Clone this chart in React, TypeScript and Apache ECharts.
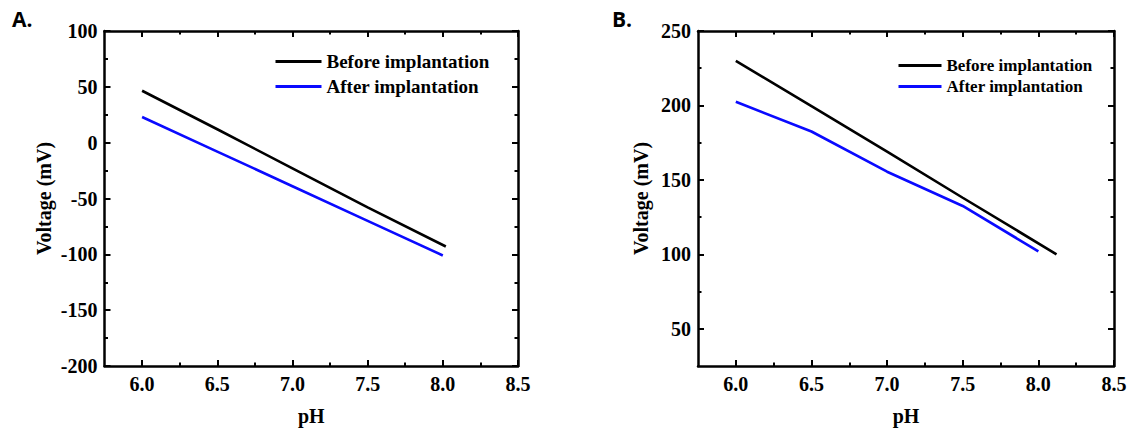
import React, { useEffect, useRef } from "react";
import * as echarts from "echarts";

// ---- Data ----
const seriesNames = ["Before implantation", "After implantation"];

// Panel A
const phA_before = [6.0, 6.5, 7.0, 7.5, 8.02];
const voltA_before = [46.5, 12, -23, -58, -93];
const phA_after = [6.0, 6.5, 7.0, 7.5, 8.0];
const voltA_after = [23, -8, -39, -70, -101];

// Panel B
const phB_before = [6.0, 6.5, 7.0, 7.5, 8.12];
const voltB_before = [230, 199.5, 169, 138, 100];
const phB_after = [6.0, 6.5, 7.0, 7.5, 8.0];
const voltB_after = [202.5, 182.5, 155.5, 132.5, 102];

// Ticks
const xMajorTicks = [6.0, 6.5, 7.0, 7.5, 8.0, 8.5];
const xMinorTicks = [6.25, 6.75, 7.25, 7.75, 8.25];
const yMajorTicksA = [-200, -150, -100, -50, 0, 50, 100];
const yMinorTicksA = [-175, -125, -75, -25, 25, 75];
const yMajorTicksB = [50, 100, 150, 200, 250];
const yMinorTicksB = [75, 125, 175, 225];

const X_MIN = 5.75;
const X_MAX = 8.5;
const Y_RANGE_A = [-200, 100];
const Y_RANGE_B = [25, 250];

const SERIF = "Liberation Serif, Times New Roman, serif";
const SANS = "Open Sans, Noto Sans, sans-serif";
const BLACK = "#000000";
const BLUE = "#0a0aff";

const zip = (xs: number[], ys: number[]) => xs.map((x, i) => [x, ys[i]]);

function frameAxes(
  dim: "x" | "y",
  gridIndex: number,
  min: number,
  max: number,
  majors: number[],
  minors: number[],
  fmt: (v: number) => string,
  name: string,
  nameGap: number,
  labelFont: number
) {
  const posA = dim === "x" ? "bottom" : "left";
  const posB = dim === "x" ? "top" : "right";
  const base = (pos: string, ticks: number[], len: number, line: boolean, label: boolean, withName: boolean) => ({
    type: "value",
    gridIndex,
    position: pos,
    min,
    max,
    axisLine: { show: line, onZero: false, lineStyle: { color: BLACK, width: 2.5 } },
    axisTick: {
      show: true,
      inside: true,
      length: len,
      customValues: ticks,
      lineStyle: { color: BLACK, width: 2 },
    },
    axisLabel: {
      show: label,
      customValues: majors,
      formatter: (v: number) => fmt(v),
      margin: dim === "x" ? 8 : 7,
      fontFamily: SERIF,
      fontWeight: "bold",
      fontSize: labelFont,
      color: BLACK,
    },
    splitLine: { show: false },
    name: withName ? name : "",
    nameLocation: "middle",
    nameGap,
    nameTextStyle: {
      fontFamily: SERIF,
      fontWeight: "bold",
      fontSize: 20,
      color: BLACK,
    },
  });
  return [
    base(posA, majors, 6, true, true, true),
    base(posA, minors, 3.5, false, false, false),
    base(posB, majors, 6, true, false, false),
    base(posB, minors, 3.5, false, false, false),
  ];
}

export default function App() {
  const ref = useRef<HTMLDivElement>(null);

  useEffect(() => {
    if (!ref.current) return;
    const chart = echarts.init(ref.current, undefined, { renderer: "svg" });

    const fmtX = (v: number) => v.toFixed(1);
    const fmtY = (v: number) => String(v);

    const xAxes = [
      ...frameAxes("x", 0, X_MIN, X_MAX, xMajorTicks, xMinorTicks, fmtX, "pH", 40, 20),
      ...frameAxes("x", 1, X_MIN, X_MAX, xMajorTicks, xMinorTicks, fmtX, "pH", 40, 20),
    ];
    const yAxes = [
      ...frameAxes("y", 0, Y_RANGE_A[0], Y_RANGE_A[1], yMajorTicksA, yMinorTicksA, fmtY, "Voltage (mV)", 51, 20),
      ...frameAxes("y", 1, Y_RANGE_B[0], Y_RANGE_B[1], yMajorTicksB, yMinorTicksB, fmtY, "Voltage (mV)", 47, 20),
    ];

    const lineSeries = (name: string, data: number[][], color: string, xi: number, yi: number) => ({
      type: "line",
      name,
      data,
      xAxisIndex: xi,
      yAxisIndex: yi,
      symbol: "none",
      showSymbol: false,
      lineStyle: { color, width: 2.6 },
      itemStyle: { color },
      color,
    });

    const legendBase = (left: number, top: number, itemWidth: number, gap: number, fontSize: number) => ({
      orient: "vertical",
      left,
      top,
      padding: 0,
      itemWidth,
      itemHeight: 14,
      itemGap: gap,
      data: seriesNames,
      itemStyle: { opacity: 0 },
      lineStyle: { width: 3 },
      textStyle: { fontFamily: SERIF, fontWeight: "bold", fontSize, color: BLACK },
      selectedMode: false,
    });

    chart.setOption({
      animation: false,
      backgroundColor: "#ffffff",
      grid: [
        { left: 104.5, top: 31, width: 413.5, height: 338 },
        { left: 698, top: 31, width: 416, height: 338 },
      ],
      xAxis: xAxes,
      yAxis: yAxes,
      legend: [legendBase(274, 52, 46, 6, 19), legendBase(897, 57, 43, 4, 17)],
      graphic: [
        {
          type: "text",
          left: 12,
          top: 8,
          style: { text: "A.", fontFamily: SANS, fontWeight: "bold", fontSize: 21, fill: BLACK },
        },
        {
          type: "text",
          left: 612,
          top: 8,
          style: { text: "B.", fontFamily: SANS, fontWeight: "bold", fontSize: 21, fill: BLACK },
        },
      ],
      series: [
        lineSeries(seriesNames[0], zip(phA_before, voltA_before), BLACK, 0, 0),
        lineSeries(seriesNames[1], zip(phA_after, voltA_after), BLUE, 0, 0),
        lineSeries(seriesNames[0], zip(phB_before, voltB_before), BLACK, 4, 4),
        lineSeries(seriesNames[1], zip(phB_after, voltB_after), BLUE, 4, 4),
      ],
    });

    return () => chart.dispose();
  }, []);

  return (
    <div
      ref={ref}
      style={{ position: "absolute", left: 0, top: 0, width: 1130, height: 431 }}
    />
  );
}
